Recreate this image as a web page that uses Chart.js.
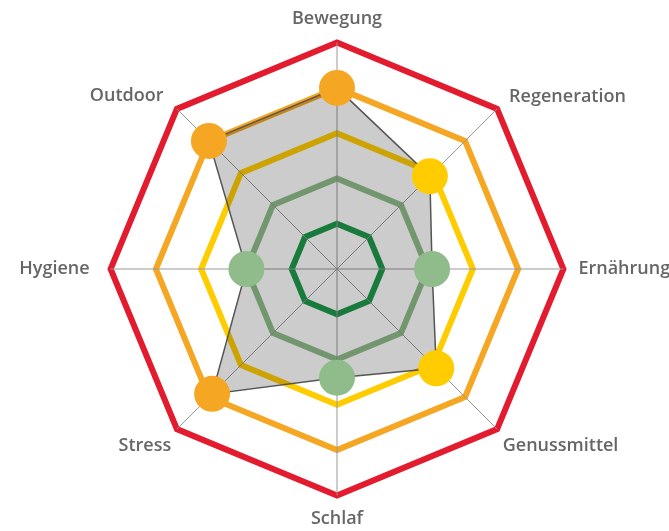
<!DOCTYPE html>
<html>
<head>
<meta charset="utf-8">
<script src="https://cdn.jsdelivr.net/npm/chart.js@4"></script>
<style>
  html, body { margin: 0; padding: 0; background: #fff; overflow: hidden; }
  #wrap { position: relative; left: -5px; width: 700px; height: 531px; }
</style>
</head>
<body>
<div id="wrap"><canvas id="radar-chart"></canvas></div>
<script>
// categories round the wheel, clockwise from the top
let categories = ['Bewegung', 'Regeneration', 'Ernährung', 'Genussmittel', 'Schlaf', 'Stress', 'Hygiene', 'Outdoor']

// score per category (0 - 5)
let scores = [4, 2.9, 2.1, 3.1, 2.4, 3.9, 2, 4]

// ring colours, level 1 (inside) to level 5 (outside)
let ringColors = ['#1f9a4c', '#8fbc8a', '#ffcc00', '#f5a623', '#e31b2f']

// gap between outer ring and each label
let labelGaps = [13, 17, 15, 8, 13, 8, 21, 19]

// point colour follows the nearest level
function levelColor(value) {
    let level = Math.min(5, Math.max(1, Math.round(value)))
    return ringColors[level - 1]
}

let ctx = document.getElementById('radar-chart').getContext('2d')
let radarChart = new Chart(ctx, {
    type: 'radar',
    data: {
        labels: categories,
        datasets: [{
            data: scores,
            borderColor: '#555',
            borderWidth: 1.5,
            backgroundColor: 'rgba(0, 0, 0, 0.2)',
            fill: true,
            pointRadius: 18,
            pointHoverRadius: 18,
            pointBorderWidth: 0,
            pointBackgroundColor: scores.map(levelColor),
        }]
    },
    options: {
        responsive: true,
        maintainAspectRatio: false,
        animation: false,
        layout: { padding: { top: 8 } },
        plugins: {
            legend: { display: false },
            tooltip: { enabled: false },
        },
        scales: {
            r: {
                min: 0,
                max: 5,
                ticks: { stepSize: 1, display: false },
                grid: {
                    circular: false,
                    color: c => ringColors[c.index - 1] || 'transparent',
                    lineWidth: 6,
                },
                angleLines: { color: '#999', lineWidth: 1 },
                pointLabels: {
                    color: '#666',
                    padding: c => labelGaps[c.index],
                    // upper diagonal labels sit a little lower
                    font: c => ({
                        family: 'Open Sans', size: 18, weight: '600',
                        lineHeight: (c.index === 1 || c.index === 7) ? 0 : 1.2,
                    }),
                },
            }
        }
    }
})
</script>
</body>
</html>
